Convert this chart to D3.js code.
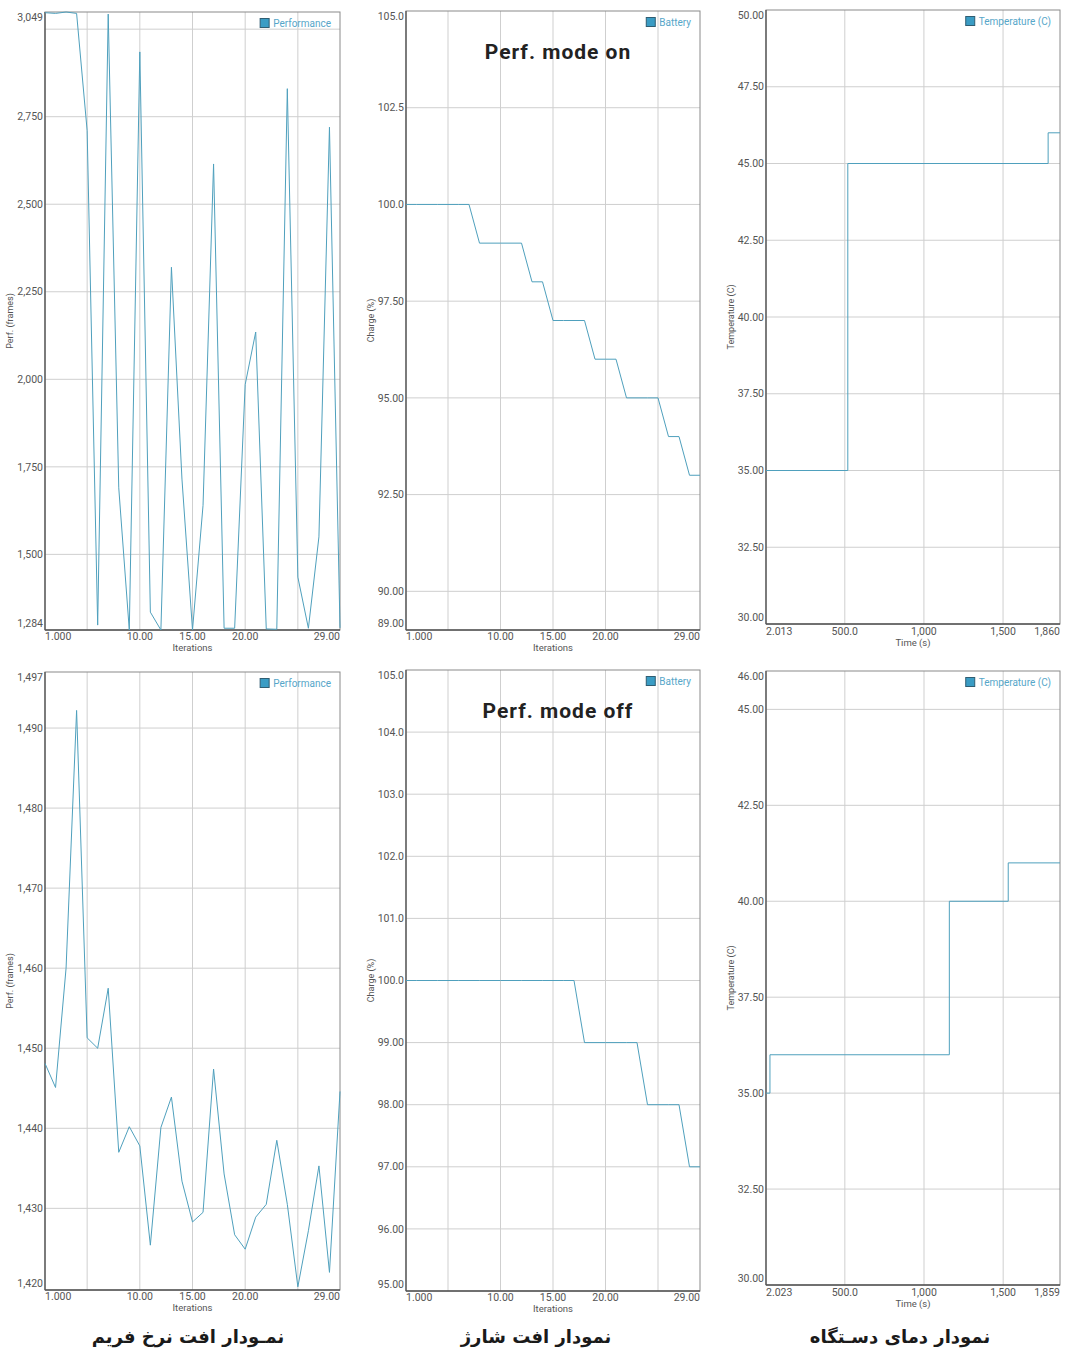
<!DOCTYPE html>
<html>
<head>
<meta charset="utf-8">
<script src="https://cdn.jsdelivr.net/npm/d3@7"></script>
<style>
  body { margin: 0; background: #fff; }
  svg { display: block; font-family: Roboto, "Noto Sans", sans-serif; }
</style>
</head>
<body>
<div id="chart"></div>
<script>
// ---- data ----
const iterations = [1, 2, 3, 4, 5, 6, 7, 8, 9, 10, 11, 12, 13, 14, 15, 16, 17, 18, 19, 20, 21, 22, 23, 24, 25, 26, 27, 28, 29];

// performance mode on
const perfOn = [3047, 3045, 3049, 3045, 2710, 1298, 3043, 1690, 1284, 2935, 1335, 1284, 2320, 1715, 1284, 1640, 2615, 1289, 1289, 1985, 2135, 1287, 1286, 2830, 1435, 1289, 1550, 2720, 1290];
const batteryOn = [100, 100, 100, 100, 100, 100, 100, 99, 99, 99, 99, 99, 98, 98, 97, 97, 97, 97, 96, 96, 96, 95, 95, 95, 95, 94, 94, 93, 93];
const tempOnTime = [2.013, 519, 1785, 1860];
const tempOn = [35, 45, 46, 46];

// performance mode off
const perfOff = [1448.1, 1445.1, 1460, 1492.2, 1451.3, 1450.0, 1457.5, 1437.0, 1440.2, 1437.8, 1425.4, 1440.1, 1443.9, 1433.4, 1428.3, 1429.5, 1447.4, 1434.3, 1426.7, 1424.9, 1428.9, 1430.5, 1438.5, 1430.5, 1420.2, 1427.2, 1435.3, 1422.0, 1444.6];
const batteryOff = [100, 100, 100, 100, 100, 100, 100, 100, 100, 100, 100, 100, 100, 100, 100, 100, 100, 99, 99, 99, 99, 99, 99, 98, 98, 98, 98, 97, 97];
const tempOffTime = [2.023, 27, 1160, 1532, 1859];
const tempOff = [35, 36, 40, 41, 41];

// axis ranges and ticks
const iterDomain = [1, 29];
const iterGrid = [5, 10, 15, 20, 25];
const iterLabels = [1, 10, 15, 20, 29];
const timeOnDomain = [2.013, 1860];
const timeOffDomain = [2.023, 1859];
const timeGrid = [500, 1000, 1500];
const timeOnLabels = [2.013, 500, 1000, 1500, 1860];
const timeOffLabels = [2.023, 500, 1000, 1500, 1859];

const perfOnDomain = [1284, 3049];
const perfOnGrid = [1500, 1750, 2000, 2250, 2500, 2750, 3000];
const perfOnLabels = [1284, 1500, 1750, 2000, 2250, 2500, 2750, 3049];
const batteryOnDomain = [89, 105];
const batteryOnGrid = [90, 92.5, 95, 97.5, 100, 102.5];
const batteryOnLabels = [89, 90, 92.5, 95, 97.5, 100, 102.5, 105];
const tempOnDomain = [30, 50];
const tempOnGrid = [32.5, 35, 37.5, 40, 42.5, 45, 47.5];
const tempOnLabels = [30, 32.5, 35, 37.5, 40, 42.5, 45, 47.5, 50];

const perfOffDomain = [1419.8, 1497];
const perfOffGrid = [1430, 1440, 1450, 1460, 1470, 1480, 1490];
const perfOffLabels = [1420, 1430, 1440, 1450, 1460, 1470, 1480, 1490, 1497];
const batteryOffDomain = [95, 105];
const batteryOffGrid = [96, 97, 98, 99, 100, 101, 102, 103, 104];
const batteryOffLabels = [95, 96, 97, 98, 99, 100, 101, 102, 103, 104, 105];
const tempOffDomain = [30, 46];
const tempOffGrid = [32.5, 35, 37.5, 40, 42.5, 45];
const tempOffLabels = [30, 32.5, 35, 37.5, 40, 42.5, 45, 46];

const captions = ["نمـودار افت نرخ فریم", "نمودار افت  شارژ", "نمودار دمای دسـتگاه"];

// ---- drawing ----
const svg = d3.select("#chart").append("svg")
  .attr("width", 1080)
  .attr("height", 1356);

const fmt = d3.format(",.4r");
const lineColor = "#4fa0bd";

function drawPanel(p) {
  const g = svg.append("g");
  const x = d3.scaleLinear().domain(p.xDomain).range([p.left, p.right]);
  const y = d3.scaleLinear().domain(p.yDomain).range([p.bottom, p.top]);

  // grid
  g.selectAll(".vgrid").data(p.xGrid).enter().append("line")
    .attr("x1", d => x(d)).attr("x2", d => x(d))
    .attr("y1", p.top).attr("y2", p.bottom)
    .attr("stroke", "#cfcfcf").attr("stroke-width", 1);
  g.selectAll(".hgrid").data(p.yGrid).enter().append("line")
    .attr("x1", p.left).attr("x2", p.right)
    .attr("y1", d => y(d)).attr("y2", d => y(d))
    .attr("stroke", "#cfcfcf").attr("stroke-width", 1);

  // border
  g.append("rect")
    .attr("x", p.left).attr("y", p.top)
    .attr("width", p.right - p.left).attr("height", p.bottom - p.top)
    .attr("fill", "none").attr("stroke", "#8a8a8a").attr("stroke-width", 1);
  g.append("line").attr("x1", p.left).attr("x2", p.left).attr("y1", p.top).attr("y2", p.bottom)
    .attr("stroke", "#555").attr("stroke-width", 1.3);
  g.append("line").attr("x1", p.left).attr("x2", p.right).attr("y1", p.bottom).attr("y2", p.bottom)
    .attr("stroke", "#555").attr("stroke-width", 1.3);

  // series
  const pts = p.xs.map((d, i) => [d, p.ys[i]]);
  const line = d3.line()
    .x(d => x(d[0]))
    .y(d => y(d[1]))
    .curve(p.step ? d3.curveStepAfter : d3.curveLinear);
  g.append("path")
    .datum(pts)
    .attr("fill", "none")
    .attr("stroke", lineColor)
    .attr("stroke-width", 1)
    .attr("d", line);

  // y labels
  g.selectAll(".ylab").data(p.yLabels).enter().append("text")
    .attr("x", p.left - 2)
    .attr("y", d => Math.max(p.top + 5, Math.min(p.bottom - 7, y(d))))
    .attr("dy", "0.35em")
    .attr("text-anchor", "end")
    .attr("font-size", 10.5)
    .attr("fill", "#555")
    .text(d => fmt(d));

  // x labels
  g.selectAll(".xlab").data(p.xLabels).enter().append("text")
    .attr("x", d => x(d))
    .attr("y", p.bottom + p.xLabGap)
    .attr("text-anchor", (d, i) => i === 0 ? "start" : (i === p.xLabels.length - 1 ? "end" : "middle"))
    .attr("font-size", 10.5)
    .attr("fill", "#555")
    .text(d => fmt(d));

  // axis titles
  g.append("text")
    .attr("x", (p.left + p.right) / 2)
    .attr("y", p.bottom + p.xLabGap + 11)
    .attr("text-anchor", "middle")
    .attr("font-size", 9.5)
    .attr("fill", "#555")
    .text(p.xTitle);
  g.append("text")
    .attr("transform", `translate(${p.left - 32}, ${(p.top + p.bottom) / 2}) rotate(-90)`)
    .attr("text-anchor", "middle")
    .attr("font-size", 9)
    .attr("fill", "#555")
    .text(p.yTitle);

  // legend (top right, inside)
  const leg = g.append("g");
  const legText = leg.append("text")
    .attr("x", p.right - 9)
    .attr("y", p.top + 11)
    .attr("dy", "0.35em")
    .attr("text-anchor", "end")
    .attr("font-size", 10)
    .attr("fill", "#56a6c9")
    .text(p.legend);
  const tw = legText.node().getComputedTextLength();
  leg.append("rect")
    .attr("x", p.right - 9 - tw - 13)
    .attr("y", p.top + 6.5)
    .attr("width", 9).attr("height", 9)
    .attr("fill", "#3a9cc4")
    .attr("stroke", "#2f5d72")
    .attr("stroke-width", 1);

  if (p.title) {
    g.append("text")
      .attr("x", (p.left + p.right) / 2 + 5)
      .attr("y", p.top + 48)
      .attr("text-anchor", "middle")
      .attr("font-size", 21)
      .attr("font-weight", "bold")
      .attr("letter-spacing", 1)
      .attr("fill", "#222")
      .text(p.title);
  }
}

// top row: perf. mode on
drawPanel({ left: 45, right: 340, top: 12, bottom: 630, xDomain: iterDomain, yDomain: perfOnDomain,
  xs: iterations, ys: perfOn, xGrid: iterGrid, xLabels: iterLabels, yGrid: perfOnGrid, yLabels: perfOnLabels,
  xTitle: "Iterations", yTitle: "Perf. (frames)", legend: "Performance", xLabGap: 10 });
drawPanel({ left: 406, right: 700, top: 11, bottom: 630, xDomain: iterDomain, yDomain: batteryOnDomain,
  xs: iterations, ys: batteryOn, xGrid: iterGrid, xLabels: iterLabels, yGrid: batteryOnGrid, yLabels: batteryOnLabels,
  xTitle: "Iterations", yTitle: "Charge (%)", legend: "Battery", xLabGap: 10, title: "Perf. mode on" });
drawPanel({ left: 766, right: 1060, top: 10, bottom: 624, xDomain: timeOnDomain, yDomain: tempOnDomain,
  xs: tempOnTime, ys: tempOn, xGrid: timeGrid, xLabels: timeOnLabels, yGrid: tempOnGrid, yLabels: tempOnLabels,
  xTitle: "Time (s)", yTitle: "Temperature (C)", legend: "Temperature (C)", xLabGap: 11, step: true });

// bottom row: perf. mode off
drawPanel({ left: 45, right: 340, top: 672, bottom: 1290, xDomain: iterDomain, yDomain: perfOffDomain,
  xs: iterations, ys: perfOff, xGrid: iterGrid, xLabels: iterLabels, yGrid: perfOffGrid, yLabels: perfOffLabels,
  xTitle: "Iterations", yTitle: "Perf. (frames)", legend: "Performance", xLabGap: 10 });
drawPanel({ left: 406, right: 700, top: 670, bottom: 1291, xDomain: iterDomain, yDomain: batteryOffDomain,
  xs: iterations, ys: batteryOff, xGrid: iterGrid, xLabels: iterLabels, yGrid: batteryOffGrid, yLabels: batteryOffLabels,
  xTitle: "Iterations", yTitle: "Charge (%)", legend: "Battery", xLabGap: 10, title: "Perf. mode off" });
drawPanel({ left: 766, right: 1060, top: 671, bottom: 1285, xDomain: timeOffDomain, yDomain: tempOffDomain,
  xs: tempOffTime, ys: tempOff, xGrid: timeGrid, xLabels: timeOffLabels, yGrid: tempOffGrid, yLabels: tempOffLabels,
  xTitle: "Time (s)", yTitle: "Temperature (C)", legend: "Temperature (C)", xLabGap: 11, step: true });

// persian captions under each column
const captionX = [188, 536, 900];
svg.selectAll(".caption").data(captions).enter().append("text")
  .attr("x", (d, i) => captionX[i])
  .attr("y", 1343)
  .attr("text-anchor", "middle")
  .attr("direction", "rtl")
  .attr("font-family", "'DejaVu Sans', 'Noto Sans', sans-serif")
  .attr("font-size", 18)
  .attr("font-weight", "bold")
  .attr("fill", "#1a1a1a")
  .text(d => d);
</script>
</body>
</html>
